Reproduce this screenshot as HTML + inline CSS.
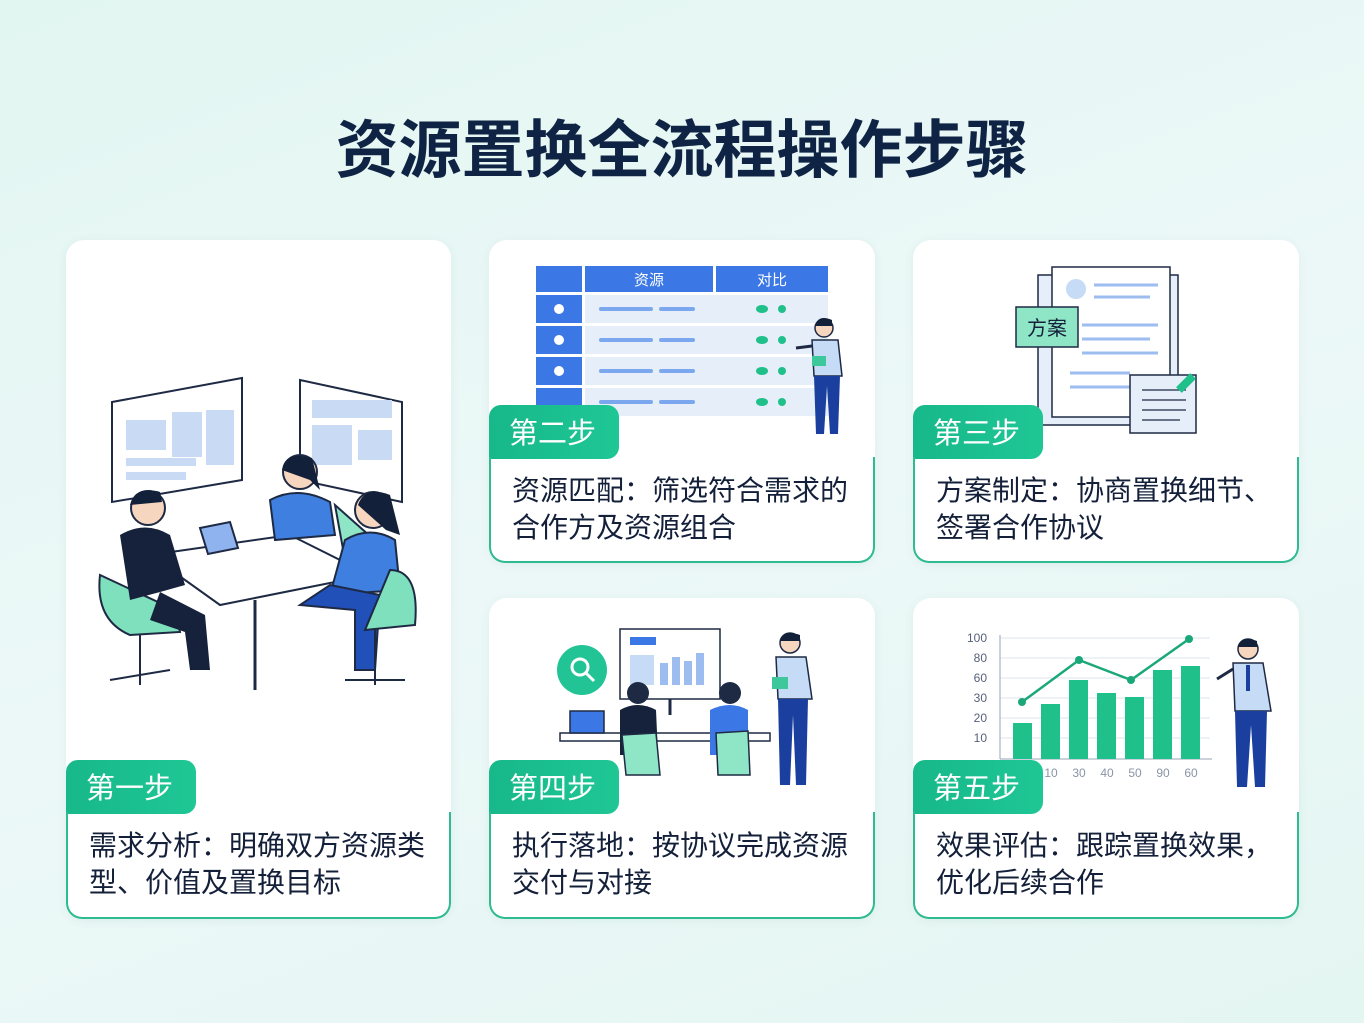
<!DOCTYPE html>
<html><head><meta charset="utf-8"><style>
*{margin:0;padding:0;box-sizing:border-box}
body{width:1364px;height:1023px;overflow:hidden;background:linear-gradient(160deg,#e2f6f1 0%,#ecf8f8 50%,#e4f6f2 100%);font-family:"Liberation Sans","Noto Sans CJK SC",sans-serif;position:relative}
h1{position:absolute;left:0;width:1364px;top:100px;text-align:center;font-size:63px;font-weight:bold;color:#0f2444;letter-spacing:0px;font-family:"Noto Sans CJK SC",sans-serif}
.card{position:absolute;background:#fff;border-radius:18px;box-shadow:0 2px 10px rgba(0,80,60,.06)}
.tag{position:absolute;height:54px;width:130px;background:linear-gradient(90deg,#17b88a,#1fc795);border-radius:12px 12px 12px 0;color:#fff;font-size:29px;line-height:52px;padding-left:20px;font-family:"Noto Sans CJK SC",sans-serif}
.txt{position:absolute;border:2px solid #2dbb8f;border-top:none;border-radius:0 0 16px 16px;color:#14203a;font-size:28px;line-height:37px;padding:14px 0 0 21px;font-family:"Noto Sans CJK SC",sans-serif}
svg{position:absolute}
</style></head><body>
<h1>资源置换全流程操作步骤</h1>

<div class="card" style="left:66px;top:240px;width:385px;height:679px"></div>
<div class="card" style="left:489px;top:240px;width:386px;height:323px"></div>
<div class="card" style="left:913px;top:240px;width:386px;height:323px"></div>
<div class="card" style="left:489px;top:598px;width:386px;height:321px"></div>
<div class="card" style="left:913px;top:598px;width:386px;height:321px"></div>

<svg style="left:90px;top:370px" width="340" height="340" viewBox="0 0 340 340">
<g stroke="#1e2a44" stroke-width="2" fill="#fff">
<polygon points="22,32 152,8 152,110 22,132"/>
<polygon points="210,10 312,32 312,132 210,110"/>
</g>
<rect x="36" y="50" width="40" height="30" fill="#c9dbf4"/><rect x="82" y="42" width="30" height="45" fill="#c9dbf4"/><rect x="36" y="88" width="70" height="8" fill="#c9dbf4"/><rect x="36" y="102" width="60" height="8" fill="#c9dbf4"/><rect x="116" y="40" width="28" height="55" fill="#c9dbf4"/>
<rect x="222" y="30" width="80" height="18" fill="#c9dbf4"/><rect x="222" y="55" width="40" height="40" fill="#c9dbf4"/><rect x="268" y="60" width="34" height="30" fill="#c9dbf4"/>
<polygon points="60,185 200,165 280,205 130,235" fill="#fff" stroke="#1e2a44" stroke-width="2"/>
<line x1="165" y1="230" x2="165" y2="320" stroke="#1e2a44" stroke-width="3"/>
<polygon points="110,158 140,152 148,178 118,184" fill="#8fb3ef" stroke="#1e2a44" stroke-width="2"/>
<path d="M10,205 Q5,250 40,265 L90,262 L85,240 Z" fill="#7fe0bd" stroke="#1e2a44" stroke-width="2"/>
<circle cx="58" cy="138" r="17" fill="#f7d6c0" stroke="#1e2a44" stroke-width="2"/><path d="M40,135 Q45,115 70,122 L72,132 Z" fill="#12203a"/>
<path d="M30,165 Q55,150 80,165 L95,215 L70,222 L40,230 Z" fill="#16223c"/>
<path d="M70,222 L115,245 L120,300 L100,300 L95,262 L60,250 Z" fill="#16223c"/>
<circle cx="210" cy="102" r="17" fill="#f7d6c0" stroke="#1e2a44" stroke-width="2"/><path d="M192,100 Q195,80 222,88 L230,120 L220,110 Z" fill="#12203a"/>
<path d="M180,130 Q208,115 240,132 L245,165 L185,170 Z" fill="#3f7fe0" stroke="#1e2a44" stroke-width="2"/>
<path d="M245,135 L255,190 L285,195 L290,175 Z" fill="#8fe6c6" stroke="#1e2a44" stroke-width="2"/>
<circle cx="283" cy="140" r="18" fill="#f7d6c0" stroke="#1e2a44" stroke-width="2"/><path d="M268,135 Q275,115 300,125 L310,165 L296,160 Z" fill="#12203a"/>
<path d="M255,170 Q280,155 305,170 L310,220 L240,225 Z" fill="#3f7fe0" stroke="#1e2a44" stroke-width="2"/>
<path d="M240,215 L290,225 L285,300 L265,300 L265,240 L210,235 Z" fill="#2050b8" stroke="#1e2a44" stroke-width="2"/>
<path d="M300,200 Q330,200 325,255 L275,260 Z" fill="#7fe0bd" stroke="#1e2a44" stroke-width="2"/>
<g stroke="#1e2a44" stroke-width="2"><line x1="50" y1="265" x2="50" y2="315"/><line x1="20" y1="310" x2="80" y2="300"/><line x1="285" y1="260" x2="285" y2="315"/><line x1="255" y1="310" x2="315" y2="310"/></g>
</svg>

<svg style="left:536px;top:266px" width="320" height="180" viewBox="0 0 320 180">
<rect x="0" y="0" width="46" height="26" fill="#3b78e6"/><rect x="49" y="0" width="128" height="26" fill="#3b78e6"/><rect x="180" y="0" width="112" height="26" fill="#3b78e6"/>
<text x="113" y="19" fill="#fff" font-size="15" text-anchor="middle" font-family="Noto Sans CJK SC">资源</text>
<text x="236" y="19" fill="#fff" font-size="15" text-anchor="middle" font-family="Noto Sans CJK SC">对比</text>
<g>
<rect x="0" y="29" width="46" height="28" fill="#3b78e6"/><rect x="49" y="29" width="243" height="28" fill="#e6eef9"/>
<rect x="0" y="60" width="46" height="28" fill="#3b78e6"/><rect x="49" y="60" width="243" height="28" fill="#e6eef9"/>
<rect x="0" y="91" width="46" height="28" fill="#3b78e6"/><rect x="49" y="91" width="243" height="28" fill="#e6eef9"/>
<rect x="0" y="122" width="46" height="28" fill="#3b78e6"/><rect x="49" y="122" width="243" height="28" fill="#e6eef9"/>
</g>
<g fill="#fff"><circle cx="23" cy="43" r="5"/><circle cx="23" cy="74" r="5"/><circle cx="23" cy="105" r="5"/></g>
<g stroke="#7aa7ee" stroke-width="4" stroke-linecap="round"><line x1="65" y1="43" x2="115" y2="43"/><line x1="125" y1="43" x2="157" y2="43"/><line x1="65" y1="74" x2="115" y2="74"/><line x1="125" y1="74" x2="157" y2="74"/><line x1="65" y1="105" x2="115" y2="105"/><line x1="125" y1="105" x2="157" y2="105"/><line x1="65" y1="136" x2="115" y2="136"/><line x1="125" y1="136" x2="157" y2="136"/></g>
<g fill="#1fc08a"><ellipse cx="226" cy="43" rx="6" ry="4"/><circle cx="246" cy="43" r="4"/><ellipse cx="226" cy="74" rx="6" ry="4"/><circle cx="246" cy="74" r="4"/><ellipse cx="226" cy="105" rx="6" ry="4"/><circle cx="246" cy="105" r="4"/><ellipse cx="226" cy="136" rx="6" ry="4"/><circle cx="246" cy="136" r="4"/></g>
<circle cx="288" cy="62" r="9" fill="#f7d6c0" stroke="#1e2a44" stroke-width="1.5"/><path d="M279,60 Q282,48 296,54 L296,60 Z" fill="#12203a"/>
<path d="M276,74 L302,74 L306,110 L278,110 Z" fill="#c6dbf5" stroke="#1e2a44" stroke-width="1.5"/>
<line x1="276" y1="80" x2="260" y2="82" stroke="#1e2a44" stroke-width="3"/>
<rect x="276" y="90" width="14" height="10" fill="#3cc89a"/>
<path d="M278,110 L304,110 L302,168 L294,168 L291,120 L288,168 L280,168 Z" fill="#1b3f9e"/>
</svg>
<div class="tag" style="left:489px;top:405px">第二步</div>
<div class="txt" style="left:489px;top:457px;width:386px;height:106px">资源匹配：筛选符合需求的<br>合作方及资源组合</div>

<svg style="left:1010px;top:265px" width="200" height="175" viewBox="0 0 200 175">
<rect x="28" y="10" width="140" height="150" fill="#e6eef9" stroke="#1e2a44" stroke-width="1.5"/>
<rect x="42" y="2" width="118" height="150" fill="#fff" stroke="#1e2a44" stroke-width="1.5"/>
<circle cx="66" cy="24" r="10" fill="#c6dbf5"/>
<g stroke="#9dbdf0" stroke-width="3"><line x1="84" y1="20" x2="148" y2="20"/><line x1="84" y1="32" x2="140" y2="32"/><line x1="72" y1="60" x2="148" y2="60"/><line x1="72" y1="74" x2="140" y2="74"/><line x1="72" y1="88" x2="148" y2="88"/><line x1="60" y1="108" x2="120" y2="108"/><line x1="60" y1="122" x2="120" y2="122"/></g>
<rect x="6" y="42" width="62" height="40" fill="#8fe6c6" stroke="#1e2a44" stroke-width="1.5"/>
<text x="37" y="70" font-size="20" text-anchor="middle" fill="#14203a" font-family="Noto Sans CJK SC">方案</text>
<rect x="120" y="110" width="66" height="58" fill="#e6eef9" stroke="#1e2a44" stroke-width="1.5"/>
<g stroke="#1e2a44" stroke-width="1.2"><line x1="132" y1="125" x2="176" y2="125"/><line x1="132" y1="135" x2="176" y2="135"/><line x1="132" y1="145" x2="176" y2="145"/><line x1="132" y1="155" x2="170" y2="155"/></g>
<rect x="172" y="108" width="8" height="20" fill="#1fc08a" transform="rotate(45 176 118)"/>
</svg>
<div class="tag" style="left:913px;top:405px">第三步</div>
<div class="txt" style="left:913px;top:457px;width:386px;height:106px">方案制定：协商置换细节、<br>签署合作协议</div>

<svg style="left:550px;top:625px" width="280" height="170" viewBox="0 0 280 170">
<circle cx="32" cy="45" r="25" fill="#22c394"/><circle cx="30" cy="42" r="8" fill="none" stroke="#fff" stroke-width="3"/><line x1="36" y1="48" x2="44" y2="56" stroke="#fff" stroke-width="3"/>
<rect x="70" y="4" width="100" height="70" fill="#fff" stroke="#1e2a44" stroke-width="1.5"/>
<rect x="80" y="12" width="26" height="8" fill="#3b78e6"/>
<rect x="80" y="30" width="24" height="30" fill="#c6dbf5"/><g fill="#9dbdf0"><rect x="110" y="38" width="8" height="22"/><rect x="122" y="32" width="8" height="28"/><rect x="134" y="36" width="8" height="24"/><rect x="146" y="28" width="8" height="32"/></g>
<line x1="120" y1="74" x2="120" y2="90" stroke="#1e2a44" stroke-width="3"/>
<rect x="10" y="108" width="210" height="8" fill="#fff" stroke="#1e2a44" stroke-width="1.5"/>
<rect x="20" y="86" width="34" height="22" fill="#3b78e6" stroke="#1e2a44" stroke-width="1.5"/>
<circle cx="88" cy="68" r="11" fill="#1e2a44"/><path d="M70,85 Q88,75 106,85 L108,130 L70,130 Z" fill="#16223c"/>
<path d="M72,110 L106,108 L110,150 L76,150 Z" fill="#8fe6c6" stroke="#1e2a44" stroke-width="1.5"/>
<circle cx="180" cy="68" r="11" fill="#1e2a44"/><path d="M160,85 Q180,75 198,85 L198,130 L160,130 Z" fill="#3b78e6"/>
<path d="M166,108 L198,106 L200,150 L168,150 Z" fill="#8fe6c6" stroke="#1e2a44" stroke-width="1.5"/>
<circle cx="240" cy="18" r="10" fill="#f7d6c0" stroke="#1e2a44" stroke-width="1.5"/><path d="M230,16 Q233,4 250,10 L250,16 Z" fill="#12203a"/>
<path d="M226,32 L256,32 L262,74 L228,74 Z" fill="#c6dbf5" stroke="#1e2a44" stroke-width="1.5"/>
<rect x="222" y="52" width="16" height="12" fill="#3cc89a"/>
<path d="M228,74 L258,74 L256,160 L246,160 L243,90 L240,160 L230,160 Z" fill="#1b3f9e"/>
</svg>
<div class="tag" style="left:489px;top:760px">第四步</div>
<div class="txt" style="left:489px;top:812px;width:386px;height:107px">执行落地：按协议完成资源<br>交付与对接</div>

<svg style="left:955px;top:625px" width="330" height="170" viewBox="0 0 330 170">
<g font-size="12" fill="#55607a" text-anchor="end" font-family="Liberation Sans"><text x="32" y="17">100</text><text x="32" y="37">80</text><text x="32" y="57">60</text><text x="32" y="77">30</text><text x="32" y="97">20</text><text x="32" y="117">10</text></g>
<g stroke="#dde3ec" stroke-width="1"><line x1="45" y1="13" x2="255" y2="13"/><line x1="45" y1="33" x2="255" y2="33"/><line x1="45" y1="53" x2="255" y2="53"/><line x1="45" y1="73" x2="255" y2="73"/><line x1="45" y1="93" x2="255" y2="93"/><line x1="45" y1="113" x2="255" y2="113"/></g>
<line x1="45" y1="10" x2="45" y2="134" stroke="#9aa4b8"/><line x1="45" y1="134" x2="257" y2="134" stroke="#9aa4b8"/>
<g fill="#1fc08a"><rect x="58" y="98" width="19" height="36"/><rect x="86" y="79" width="19" height="55"/><rect x="114" y="55" width="19" height="79"/><rect x="142" y="68" width="19" height="66"/><rect x="170" y="72" width="19" height="62"/><rect x="198" y="45" width="19" height="89"/><rect x="226" y="41" width="19" height="93"/></g>
<polyline points="67,77 124,35 176,55 234,14" fill="none" stroke="#1aa878" stroke-width="2.5"/>
<g fill="#1aa878"><circle cx="67" cy="77" r="4"/><circle cx="124" cy="35" r="4"/><circle cx="176" cy="55" r="4"/><circle cx="234" cy="14" r="4"/></g>
<g font-size="12" fill="#8a93a8" text-anchor="middle"><text x="96" y="152">10</text><text x="124" y="152">30</text><text x="152" y="152">40</text><text x="180" y="152">50</text><text x="208" y="152">90</text><text x="236" y="152">60</text></g>
<circle cx="293" cy="24" r="10" fill="#f7d6c0" stroke="#1e2a44" stroke-width="1.5"/><path d="M283,22 Q286,10 302,16 L302,22 Z" fill="#12203a"/>
<path d="M278,38 L308,38 L316,86 L280,86 Z" fill="#c6dbf5" stroke="#1e2a44" stroke-width="1.5"/>
<line x1="278" y1="44" x2="262" y2="54" stroke="#1e2a44" stroke-width="3"/>
<line x1="293" y1="40" x2="293" y2="66" stroke="#1b3f9e" stroke-width="4"/>
<path d="M280,86 L312,86 L310,162 L300,162 L296,100 L292,162 L282,162 Z" fill="#1b3f9e"/>
</svg>
<div class="tag" style="left:913px;top:760px">第五步</div>
<div class="txt" style="left:913px;top:812px;width:386px;height:107px">效果评估：跟踪置换效果，<br>优化后续合作</div>

<div class="tag" style="left:66px;top:760px">第一步</div>
<div class="txt" style="left:66px;top:812px;width:385px;height:107px">需求分析：明确双方资源类<br>型、价值及置换目标</div>
</body></html>
